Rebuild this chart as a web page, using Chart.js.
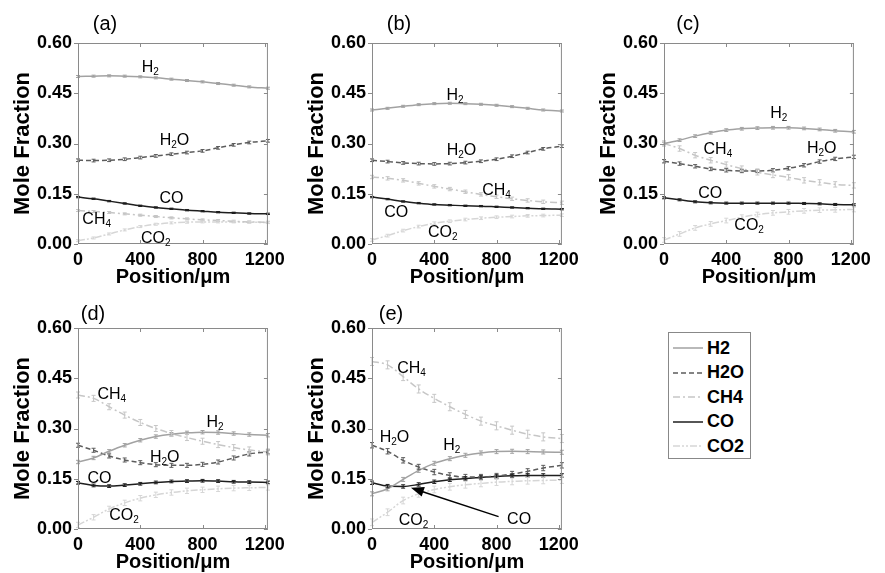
<!DOCTYPE html>
<html>
<head>
<meta charset="utf-8">
<script src="https://cdn.jsdelivr.net/npm/chart.js@4.4.1/dist/chart.umd.min.js"></script>
<style>
  body { margin: 0; background: #fff; }
  #wrap { position: relative; width: 885px; height: 573px; overflow: hidden;
          font-family: "Liberation Sans", Arial, sans-serif; }
  .panel { position: absolute; width: 290px; height: 290px; }
  .tag { position: absolute; font-size: 20px; color: #000; transform: translate(-50%, -50%); }
  #legend { position: absolute; left: 668px; top: 332px; width: 83px; height: 127px;
            border: 1px solid #888; box-sizing: border-box; padding-top: 3px; }
  #legend .row { height: 24.5px; display: flex; align-items: center; }
  #legend svg { margin-left: 4px; margin-right: 4px; }
  #legend span { font-weight: bold; font-size: 18px; color: #000; }
</style>
</head>
<body>
<div id="wrap">
  <canvas id="pa" class="panel" width="290" height="290" style="left:0px;top:0px"></canvas>
  <canvas id="pb" class="panel" width="290" height="290" style="left:294px;top:0px"></canvas>
  <canvas id="pc" class="panel" width="290" height="290" style="left:586px;top:0px"></canvas>
  <canvas id="pd" class="panel" width="290" height="290" style="left:0px;top:285px"></canvas>
  <canvas id="pe" class="panel" width="290" height="290" style="left:294px;top:285px"></canvas>
  <div class="tag" style="left:105px;top:23px">(a)</div>
  <div class="tag" style="left:399px;top:23px">(b)</div>
  <div class="tag" style="left:688px;top:23px">(c)</div>
  <div class="tag" style="left:93px;top:313px">(d)</div>
  <div class="tag" style="left:391px;top:313px">(e)</div>
  <div id="legend"></div>
</div>
<script>
// positions along the channel (um)
const positions = [0, 100, 200, 300, 400, 500, 600, 700, 800, 900, 1000, 1100, 1220];
const species = ["H2", "H2O", "CH4", "CO", "CO2"];
const xTicks = [0, 400, 800, 1200];
const yTicks = [0, 0.15, 0.30, 0.45, 0.60];

// (a)
const h2A  = [0.500, 0.501, 0.502, 0.501, 0.499, 0.496, 0.492, 0.488, 0.484, 0.479, 0.474, 0.469, 0.465];
const h2oA = [0.250, 0.249, 0.250, 0.253, 0.258, 0.263, 0.268, 0.273, 0.278, 0.287, 0.296, 0.303, 0.308];
const ch4A = [0.100, 0.097, 0.094, 0.090, 0.086, 0.082, 0.078, 0.075, 0.072, 0.070, 0.068, 0.066, 0.065];
const coA  = [0.140, 0.135, 0.128, 0.121, 0.114, 0.109, 0.105, 0.101, 0.098, 0.095, 0.093, 0.091, 0.090];
const co2A = [0.010, 0.018, 0.030, 0.042, 0.052, 0.059, 0.063, 0.065, 0.066, 0.066, 0.066, 0.065, 0.064];
const errA = [0.003, 0.004, 0.003, 0.002, 0.003];

// (b)
const h2B  = [0.400, 0.405, 0.411, 0.416, 0.419, 0.420, 0.419, 0.417, 0.414, 0.410, 0.405, 0.400, 0.397];
const h2oB = [0.250, 0.246, 0.242, 0.240, 0.239, 0.240, 0.243, 0.247, 0.253, 0.262, 0.273, 0.284, 0.292];
const ch4B = [0.200, 0.196, 0.190, 0.181, 0.172, 0.164, 0.156, 0.148, 0.141, 0.135, 0.130, 0.126, 0.123];
const coB  = [0.140, 0.134, 0.127, 0.122, 0.118, 0.116, 0.114, 0.113, 0.111, 0.109, 0.107, 0.105, 0.104];
const co2B = [0.012, 0.025, 0.040, 0.052, 0.062, 0.068, 0.073, 0.077, 0.080, 0.082, 0.084, 0.085, 0.086];
const errB = [0.003, 0.004, 0.005, 0.002, 0.004];

// (c)
const h2C  = [0.300, 0.310, 0.322, 0.332, 0.340, 0.344, 0.346, 0.347, 0.347, 0.345, 0.342, 0.338, 0.335];
const h2oC = [0.247, 0.240, 0.232, 0.224, 0.220, 0.218, 0.218, 0.220, 0.226, 0.235, 0.246, 0.254, 0.260];
const ch4C = [0.300, 0.285, 0.265, 0.250, 0.237, 0.225, 0.214, 0.206, 0.199, 0.190, 0.184, 0.178, 0.175];
const coC  = [0.138, 0.132, 0.126, 0.123, 0.122, 0.122, 0.122, 0.122, 0.122, 0.121, 0.120, 0.118, 0.117];
const co2C = [0.012, 0.030, 0.048, 0.060, 0.070, 0.080, 0.088, 0.093, 0.096, 0.099, 0.101, 0.102, 0.103];
const errC = [0.004, 0.005, 0.008, 0.003, 0.007];

// (d)
const h2D  = [0.200, 0.212, 0.232, 0.250, 0.265, 0.276, 0.283, 0.287, 0.289, 0.288, 0.285, 0.282, 0.280];
const h2oD = [0.250, 0.235, 0.218, 0.206, 0.198, 0.192, 0.190, 0.190, 0.193, 0.200, 0.212, 0.224, 0.230];
const ch4D = [0.400, 0.390, 0.365, 0.340, 0.318, 0.300, 0.285, 0.273, 0.262, 0.252, 0.243, 0.236, 0.230];
const coD  = [0.138, 0.130, 0.128, 0.131, 0.135, 0.139, 0.142, 0.143, 0.144, 0.143, 0.141, 0.140, 0.139];
const co2D = [0.012, 0.035, 0.060, 0.078, 0.092, 0.102, 0.109, 0.114, 0.117, 0.120, 0.122, 0.123, 0.124];
const errD = [0.005, 0.006, 0.009, 0.004, 0.008];

// (e)
const h2E  = [0.105, 0.120, 0.148, 0.175, 0.196, 0.210, 0.220, 0.227, 0.231, 0.232, 0.231, 0.230, 0.229];
const h2oE = [0.250, 0.232, 0.205, 0.185, 0.170, 0.160, 0.155, 0.155, 0.158, 0.164, 0.172, 0.182, 0.190];
const ch4E = [0.500, 0.490, 0.455, 0.418, 0.390, 0.365, 0.342, 0.322, 0.308, 0.295, 0.283, 0.275, 0.270];
const coE  = [0.138, 0.128, 0.127, 0.133, 0.141, 0.147, 0.151, 0.154, 0.157, 0.159, 0.160, 0.160, 0.160];
const co2E = [0.020, 0.050, 0.085, 0.105, 0.118, 0.126, 0.132, 0.136, 0.140, 0.142, 0.144, 0.145, 0.146];
const errE = [0.006, 0.008, 0.012, 0.005, 0.010];

// line looks, same order as species
const colors = ["#a2a2a2", "#5c5c5c", "#c6c6c6", "#1e1e1e", "#d6d6d6"];
const dashes = [[], [5, 3], [7, 3, 2, 3], [], [7, 2, 2, 2, 2, 2]];

// in-plot labels (x in um, y in mole fraction)
const notesA = [{t: "H2", x: 464, y: 0.532}, {t: "H2O", x: 620, y: 0.313}, {t: "CO", x: 600, y: 0.141},
                {t: "CH4", x: 120, y: 0.077}, {t: "CO2", x: 500, y: 0.022}];
const notesB = [{t: "H2", x: 534, y: 0.448}, {t: "H2O", x: 575, y: 0.284}, {t: "CH4", x: 800, y: 0.164},
                {t: "CO", x: 155, y: 0.099}, {t: "CO2", x: 454, y: 0.040}];
const notesC = [{t: "H2", x: 738, y: 0.395}, {t: "CH4", x: 346, y: 0.286}, {t: "H2O", x: 1013, y: 0.290},
                {t: "CO", x: 297, y: 0.154}, {t: "CO2", x: 547, y: 0.060}];
const notesD = [{t: "CH4", x: 217, y: 0.405}, {t: "H2", x: 880, y: 0.323}, {t: "H2O", x: 557, y: 0.219},
                {t: "CO", x: 138, y: 0.154}, {t: "CO2", x: 296, y: 0.045}];
const notesE = [{t: "CH4", x: 254, y: 0.484}, {t: "H2O", x: 144, y: 0.278}, {t: "H2", x: 512, y: 0.254},
                {t: "CO2", x: 266, y: 0.030}, {t: "CO", x: 945, y: 0.032}];
const arrowE = {x1: 813, y1: 0.037, x2: 250, y2: 0.123};

const FONT = '"Liberation Sans", Arial, sans-serif';

function drawFormula(ctx, text, cx, cy) {
  const parts = text.split("").map(c => ({c: c, sub: /\d/.test(c)}));
  let w = 0;
  parts.forEach(p => {
    ctx.font = (p.sub ? "10px " : "16px ") + FONT;
    p.w = ctx.measureText(p.c).width;
    w += p.w;
  });
  let x = cx - w / 2;
  const base = cy + 6;
  ctx.fillStyle = "#000";
  ctx.textAlign = "left";
  ctx.textBaseline = "alphabetic";
  parts.forEach(p => {
    ctx.font = (p.sub ? "10px " : "16px ") + FONT;
    ctx.fillText(p.c, x, p.sub ? base + 3 : base);
    x += p.w;
  });
}

function makePanel(id, series, errs, notes, padRight, arrow) {
  const datasets = series.map((vals, i) => ({
    label: species[i],
    data: vals.map((v, j) => ({x: positions[j], y: v})),
    borderColor: colors[i],
    borderDash: dashes[i],
    borderWidth: 1.5,
    err: errs[i],
    pointRadius: 0,
    fill: false,
    cubicInterpolationMode: "monotone"
  }));

  const extras = {
    id: "extras",
    afterDatasetsDraw(chart) {
      const ctx = chart.ctx;
      const xs = chart.scales.x, ys = chart.scales.y;
      const a = chart.chartArea;
      // error bars
      chart.data.datasets.forEach((ds, i) => {
        const meta = chart.getDatasetMeta(i);
        ctx.save();
        ctx.strokeStyle = ds.borderColor;
        ctx.lineWidth = 1;
        meta.data.forEach((pt, j) => {
          const v = ds.data[j].y;
          const t = ys.getPixelForValue(v + ds.err), b = ys.getPixelForValue(v - ds.err);
          ctx.beginPath();
          ctx.moveTo(pt.x, t); ctx.lineTo(pt.x, b);
          ctx.moveTo(pt.x - 2, t); ctx.lineTo(pt.x + 2, t);
          ctx.moveTo(pt.x - 2, b); ctx.lineTo(pt.x + 2, b);
          ctx.stroke();
        });
        ctx.restore();
      });
      // frame and ticks
      ctx.save();
      ctx.strokeStyle = "#8a8a8a";
      ctx.lineWidth = 1;
      ctx.strokeRect(a.left + 0.5, a.top + 0.5, a.right - a.left - 1, a.bottom - a.top - 1);
      ctx.beginPath();
      xTicks.forEach(v => {
        const px = Math.round(xs.getPixelForValue(v)) + 0.5;
        ctx.moveTo(px, a.bottom); ctx.lineTo(px, a.bottom - 4);
        ctx.moveTo(px, a.top); ctx.lineTo(px, a.top + 4);
      });
      yTicks.forEach(v => {
        const py = Math.round(ys.getPixelForValue(v)) + 0.5;
        ctx.moveTo(a.left, py); ctx.lineTo(a.left - 4, py);
        ctx.moveTo(a.right, py); ctx.lineTo(a.right - 4, py);
      });
      ctx.stroke();
      ctx.restore();
      // labels
      ctx.save();
      notes.forEach(n => drawFormula(ctx, n.t, xs.getPixelForValue(n.x), ys.getPixelForValue(n.y)));
      if (arrow) {
        const x1 = xs.getPixelForValue(arrow.x1), y1 = ys.getPixelForValue(arrow.y1);
        const x2 = xs.getPixelForValue(arrow.x2), y2 = ys.getPixelForValue(arrow.y2);
        const ang = Math.atan2(y2 - y1, x2 - x1);
        ctx.strokeStyle = "#000";
        ctx.fillStyle = "#000";
        ctx.lineWidth = 1.5;
        ctx.beginPath();
        ctx.moveTo(x1, y1);
        ctx.lineTo(x2 - 10 * Math.cos(ang), y2 - 10 * Math.sin(ang));
        ctx.stroke();
        ctx.beginPath();
        ctx.moveTo(x2, y2);
        ctx.lineTo(x2 - 13 * Math.cos(ang) + 5 * Math.sin(ang), y2 - 13 * Math.sin(ang) - 5 * Math.cos(ang));
        ctx.lineTo(x2 - 13 * Math.cos(ang) - 5 * Math.sin(ang), y2 - 13 * Math.sin(ang) + 5 * Math.cos(ang));
        ctx.closePath();
        ctx.fill();
      }
      ctx.restore();
    }
  };

  return new Chart(document.getElementById(id), {
    type: "line",
    data: {datasets: datasets},
    plugins: [extras],
    options: {
      responsive: false,
      animation: false,
      devicePixelRatio: 1,
      layout: {padding: {top: 43, right: padRight, left: 0, bottom: 0}},
      plugins: {legend: {display: false}, tooltip: {enabled: false}},
      scales: {
        x: {
          type: "linear", min: 0, max: 1220,
          afterBuildTicks: s => { s.ticks = xTicks.map(v => ({value: v})); },
          afterFit: s => { s.height = 46; },
          grid: {display: false, drawTicks: false},
          border: {display: false},
          ticks: {color: "#000", padding: 5, maxRotation: 0, font: {family: FONT, size: 18, weight: "bold"},
                  callback: v => String(v)},
          title: {display: true, text: "Position/μm", color: "#000", padding: {top: 0, bottom: 1},
                  font: {family: FONT, size: 20, weight: "bold"}}
        },
        y: {
          type: "linear", min: 0, max: 0.6,
          afterBuildTicks: s => { s.ticks = yTicks.map(v => ({value: v})); },
          afterFit: s => { s.width = 78; },
          grid: {display: false, drawTicks: false},
          border: {display: false},
          ticks: {color: "#000", padding: 6, font: {family: FONT, size: 18, weight: "bold"},
                  callback: v => Number(v).toFixed(2)},
          title: {display: true, text: "Mole Fraction", color: "#000", padding: {top: 10, bottom: 0},
                  font: {family: FONT, size: 22, weight: "bold"}}
        }
      }
    }
  });
}

makePanel("pa", [h2A, h2oA, ch4A, coA, co2A], errA, notesA, 10, null);
makePanel("pb", [h2B, h2oB, ch4B, coB, co2B], errB, notesB, 11, null);
makePanel("pc", [h2C, h2oC, ch4C, coC, co2C], errC, notesC, 12, null);
makePanel("pd", [h2D, h2oD, ch4D, coD, co2D], errD, notesD, 10, null);
makePanel("pe", [h2E, h2oE, ch4E, coE, co2E], errE, notesE, 11, arrowE);

// legend
const legend = document.getElementById("legend");
species.forEach((name, i) => {
  const row = document.createElement("div");
  row.className = "row";
  row.innerHTML = '<svg width="30" height="6"><line x1="0" y1="3" x2="30" y2="3" stroke="' + colors[i] +
    '" stroke-width="1.5" stroke-dasharray="' + (dashes[i].length ? dashes[i].join(" ") : "none") +
    '"/></svg><span>' + name + '</span>';
  legend.appendChild(row);
});
</script>
</body>
</html>
